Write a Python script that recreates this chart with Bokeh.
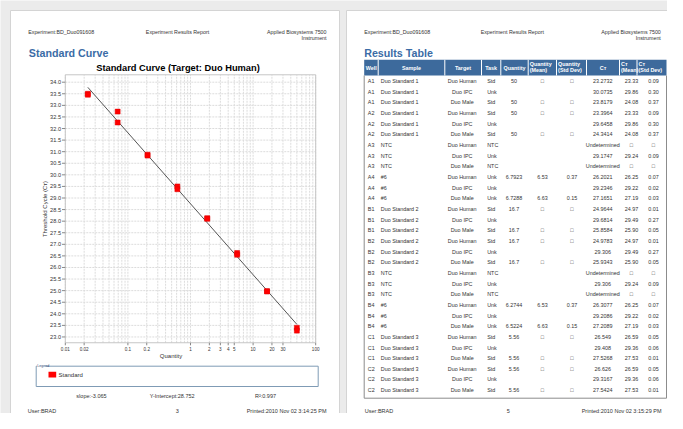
import math
from bokeh.plotting import figure
from bokeh.models import Range1d, LogScale
from bokeh.core.properties import value
from bokeh.embed import file_html
from bokeh.resources import INLINE

# ---------------- data: standard curve ----------------
std_quantity = [0.0229, 0.0229, 0.0686, 0.0686, 0.206, 0.206, 0.617, 0.617,
                1.85, 1.85, 5.56, 5.56, 16.7, 16.7, 50, 50]
std_ct = [33.50, 33.46, 32.73, 32.26, 30.87, 30.83, 29.50, 29.38,
          28.13, 28.10, 26.626, 26.549, 24.9783, 24.9644, 23.3964, 23.2732]
slope = -3.065
y_intercept = 28.752
r_squared = 0.997
ct_ticks = [23.0, 23.5, 24.0, 24.5, 25.0, 25.5, 26.0, 26.5, 27.0, 27.5, 28.0, 28.5,
            29.0, 29.5, 30.0, 30.5, 31.0, 31.5, 32.0, 32.5, 33.0, 33.5, 34.0]
qty_ticks = [0.01, 0.02, 0.1, 0.2, 1, 2, 3, 4, 5, 10, 20, 30, 100]
qty_tick_labels = ["0.01", "0.02", "0.1", "0.2", "1", "2", "3", "4", "5", "10", "20", "30", "100"]
qty_decades = [0.01, 0.1, 1, 10]
qty_limits = [0.01, 100]
ct_limits = [22.75, 34.32]

# ---------------- data: results table ----------------
wells = ["A1"] * 3 + ["A2"] * 3 + ["A3"] * 3 + ["A4"] * 3 + ["B1"] * 3 + ["B2"] * 3 + \
        ["B3"] * 3 + ["B4"] * 3 + ["C1"] * 3 + ["C2"] * 3
samples = ["Duo Standard 1"] * 6 + ["NTC"] * 3 + ["#6"] * 3 + ["Duo Standard 2"] * 6 + \
          ["NTC"] * 3 + ["#6"] * 3 + ["Duo Standard 3"] * 6
targets = ["Duo Human", "Duo IPC", "Duo Male"] * 10
tasks = ["Std", "Unk", "Std", "Std", "Unk", "Std", "NTC", "Unk", "NTC", "Unk", "Unk", "Unk",
         "Std", "Unk", "Std", "Std", "Unk", "Std", "NTC", "Unk", "NTC", "Unk", "Unk", "Unk",
         "Std", "Unk", "Std", "Std", "Unk", "Std"]
B = "\u25a1"
quantity = ["50", "", "50", "50", "", "50", "", "", "", "6.7923", "", "6.7288",
            "16.7", "", "16.7", "16.7", "", "16.7", "", "", "", "6.2744", "", "6.5224",
            "5.56", "", "5.56", "5.56", "", "5.56"]
qty_mean = [B, "", B, B, "", B, "", "", "", "6.53", "", "6.63",
            B, "", B, B, "", B, "", "", "", "6.53", "", "6.63",
            B, "", B, B, "", B]
qty_sd = [B, "", B, B, "", B, "", "", "", "0.37", "", "0.15",
          B, "", B, B, "", B, "", "", "", "0.37", "", "0.15",
          B, "", B, B, "", B]
ct_vals = ["23.2732", "30.0735", "23.8179", "23.3964", "29.6458", "24.3414",
           "Undetermined", "29.1747", "Undetermined", "26.2021", "29.2346", "27.1651",
           "24.9644", "29.6814", "25.8584", "24.9783", "29.306", "25.9343",
           "Undetermined", "29.306", "Undetermined", "26.3077", "29.2086", "27.2089",
           "26.549", "29.408", "27.5268", "26.626", "29.3167", "27.5424"]
ct_mean = ["23.33", "29.86", "24.08", "23.33", "29.86", "24.08", B, "29.24", B,
           "26.25", "29.22", "27.19", "24.97", "29.49", "25.90", "24.97", "29.49", "25.90",
           B, "29.24", B, "26.25", "29.22", "27.19", "26.59", "29.36", "27.53",
           "26.59", "29.36", "27.53"]
ct_sd = ["0.09", "0.30", "0.37", "0.09", "0.30", "0.37", B, "0.09", B,
         "0.07", "0.02", "0.03", "0.01", "0.27", "0.05", "0.01", "0.27", "0.05",
         B, "0.09", B, "0.07", "0.02", "0.03", "0.05", "0.06", "0.01",
         "0.05", "0.06", "0.01"]

# ---------------- layout constants (page pixels) ----------------
X_ONE = 190.0      # pixel of quantity = 1
DEC = 62.6         # pixels per decade
Y34 = 81.7         # pixel of Ct = 34
PXCT = 23.16       # pixels per Ct unit
VX0, VX1, VY0, VY1 = 0, 667, 0, 413
RX = -9.0          # horizontal shift of the right-hand page so it fits

FONT = value("Liberation Sans")
BLUE = "#3b6ca6"
TXT = "#333333"

p = figure(width=667, height=413, x_range=Range1d(VX0, VX1), y_range=Range1d(VY1, VY0),
           x_axis_type=None, y_axis_type=None, toolbar_location=None,
           output_backend="svg", min_border=0, title=None)
p.outline_line_color = None
p.background_fill_color = "#ebebeb"
p.border_fill_color = "#ebebeb"

p.extra_x_ranges = {"q": Range1d(10 ** ((VX0 - X_ONE) / DEC), 10 ** ((VX1 - X_ONE) / DEC))}
p.extra_x_scales = {"q": LogScale()}
p.extra_y_ranges = {"ct": Range1d(34 - (VY1 - Y34) / PXCT, 34 + (Y34 - VY0) / PXCT)}


def txt(x, y, s, size="5.4px", align="left", color=TXT, bold=False, angle=0.0, **kw):
    if not isinstance(x, list):
        x, y, s = [x], [y], [s]
    p.text(x=x, y=y, text=s, text_font=FONT, text_font_size=size, text_align=align,
           text_baseline="middle", text_color=color, angle=angle,
           text_font_style="bold" if bold else "normal", **kw)


def rx(v):
    return v + RX


# pages
p.quad(left=[10, rx(355)], right=[339, rx(681)], top=[10, 10], bottom=[440, 440],
       fill_color="white", line_color="#d4d4d4", line_width=1)

# ---------------- page headers ----------------
for (xl, xc, xr_) in [(27.7, 177, 326), (rx(372.7), rx(520.8), rx(669.3))]:
    txt(xl, 31.7, "Experiment:BD_Duo091608", "5.3px")
    txt(xc, 31.7, "Experiment Results Report", "5.3px", "center")
    txt(xr_, 31.7, "Applied Biosystems 7500", "5.3px", "right")
    txt(xr_, 37.7, "Instrument", "5.3px", "right")

# ---------------- left page ----------------
txt(28.3, 52.7, "Standard Curve", "10.7px", color=BLUE, bold=True)
txt(177.5, 67.0, "Standard Curve (Target: Duo Human)", "9.3px", "center", color="black", bold=True)

# grid
grid_q = [m * d for d in qty_decades for m in range(1, 10)] + [qty_limits[1]]
p.segment(x0=grid_q, x1=grid_q, y0=[ct_limits[0]] * len(grid_q), y1=[ct_limits[1]] * len(grid_q),
          x_range_name="q", y_range_name="ct", line_color="#dcdcdc", line_dash="2 1", line_width=1)
p.segment(x0=[qty_limits[0]] * len(ct_ticks), x1=[qty_limits[1]] * len(ct_ticks), y0=ct_ticks, y1=ct_ticks,
          x_range_name="q", y_range_name="ct", line_color="#dcdcdc", line_dash="2 1", line_width=1)
# frame
p.quad(left=[qty_limits[0]], right=[qty_limits[1]], bottom=[ct_limits[0]], top=[ct_limits[1]],
       x_range_name="q", y_range_name="ct", fill_color=None, line_color="#c6c6c6", line_width=1)
# axis ticks
p.segment(x0=[61.5] * len(ct_ticks), x1=[64.8] * len(ct_ticks), y0=ct_ticks, y1=ct_ticks,
          y_range_name="ct", line_color="#888888", line_width=1)
p.segment(x0=qty_ticks, x1=qty_ticks, y0=[342.3] * len(qty_ticks), y1=[344.8] * len(qty_ticks),
          x_range_name="q", line_color="#888888", line_width=1)
txt([60.5] * len(ct_ticks), ct_ticks, ["%.1f" % t for t in ct_ticks], "5.6px", "right",
    y_range_name="ct")
txt(qty_ticks, [348.5] * len(qty_ticks), qty_tick_labels, "4.6px", "center", x_range_name="q")
txt(170.5, 355.5, "Quantity", "6px", "center")
txt(44, 208.5, "Threshold Cycle (C\u1d1b)", "6px", "center", angle=math.pi / 2)

# fit line and points
fit_q = [min(std_quantity), max(std_quantity)]
fit_ct = [y_intercept + slope * math.log10(q) for q in fit_q]
p.line(fit_q, fit_ct, x_range_name="q", y_range_name="ct", line_color="#555555", line_width=1)
p.scatter(std_quantity, std_ct, x_range_name="q", y_range_name="ct", marker="square",
          size=5, fill_color="#ff0000", line_color="#e00000", line_width=0.5)

# legend
p.quad(left=[35.7], right=[317.7], top=[365.7], bottom=[386], fill_color="white",
       line_color="#7f9bb5", line_width=1)
p.quad(left=[36.5], right=[45], top=[364], bottom=[367.3], fill_color="white", line_color=None)
txt(36.8, 365.6, "Legend", "3.6px", color="#2a4a7a")
p.quad(left=[48], right=[55.7], top=[371.2], bottom=[377], fill_color="#ff0000", line_color=None)
txt(58, 374.2, "Standard", "6px")

txt(91, 395.7, "slope:%.3f" % slope, "5.5px", "center")
txt(171.7, 395.7, "Y-Intercept:%.3f" % y_intercept, "5.5px", "center")
txt(265, 395.7, "R\u00b2:%.3f" % r_squared, "5.5px", "center")

txt(27.3, 410, "User:BRAD", "5.5px")
txt(176.7, 410, "3", "5.5px", "center")
txt(326, 410, "Printed:2010 Nov 02 3:14:25 PM", "5.5px", "right")

# ---------------- right page ----------------
txt(rx(372.7), 52.7, "Results Table", "10.7px", color=BLUE, bold=True)

TL, TR, HT, HB, TB = rx(372.7), rx(675), 59.3, 75.0, 397.7
p.quad(left=[TL], right=[TR], top=[HT], bottom=[HB], fill_color="#3d6a9c", line_color=None)
seps = [rx(v) for v in [386.7, 453.3, 490, 509.3, 536.7, 565, 595, 628, 645.5]]
p.segment(x0=seps, x1=seps, y0=[HT] * len(seps), y1=[HB] * len(seps), line_color="white", line_width=1)
p.line([TL, TL, TR, TR], [HB, TB, TB, HB], line_color="#8c8c8c", line_width=1)

# header texts
hw = dict(color="white", bold=True)
txt(rx(374.3), 67.3, "Well", "5.4px", **hw)
txt(rx(420), 67.3, "Sample", "5.4px", "center", **hw)
txt(rx(471.5), 67.3, "Target", "5.4px", "center", **hw)
txt(rx(499.6), 67.3, "Task", "5.4px", "center", **hw)
txt(rx(523), 67.3, "Quantity", "5.4px", "center", **hw)
txt(rx(611.5), 67.3, "C\u1d1b", "5.4px", "center", **hw)
for xh, l1, l2 in [(538.3, "Quantity", "(Mean)"), (566.6, "Quantity", "(Std Dev)"),
                   (629.5, "C\u1d1b", "(Mean)"), (647.0, "C\u1d1b", "(Std Dev)")]:
    txt(rx(xh), 63.5, l1, "5.4px", **hw)
    txt(rx(xh), 69.6, l2, "5.4px", **hw)

ROW0, PITCH = 80.5, 10.66
rows_y = [ROW0 + i * PITCH for i in range(len(wells))]
n = len(wells)
txt([rx(376.3)] * n, rows_y, wells, "5.4px")
txt([rx(389.3)] * n, rows_y, samples, "5.4px")
txt([rx(470.7)] * n, rows_y, targets, "5.4px", "center")
txt([rx(495.7)] * n, rows_y, tasks, "5.4px")
txt([rx(522.5)] * n, rows_y, quantity, "5.4px", "center")
txt([rx(551)] * n, rows_y, qty_mean, "5.4px", "center")
txt([rx(580.5)] * n, rows_y, qty_sd, "5.4px", "center")
txt([rx(611.3)] * n, rows_y, ct_vals, "5.4px", "center")
txt([rx(640)] * n, rows_y, ct_mean, "5.4px", "center")
txt([rx(662)] * n, rows_y, ct_sd, "5.4px", "center")

txt(rx(373.3), 410, "User:BRAD", "5.5px")
txt(rx(516.7), 410, "5", "5.5px", "center")
txt(rx(670), 410, "Printed:2010 Nov 02 3:15:29 PM", "5.5px", "right")

open("out.html", "w").write(file_html(p, INLINE))
